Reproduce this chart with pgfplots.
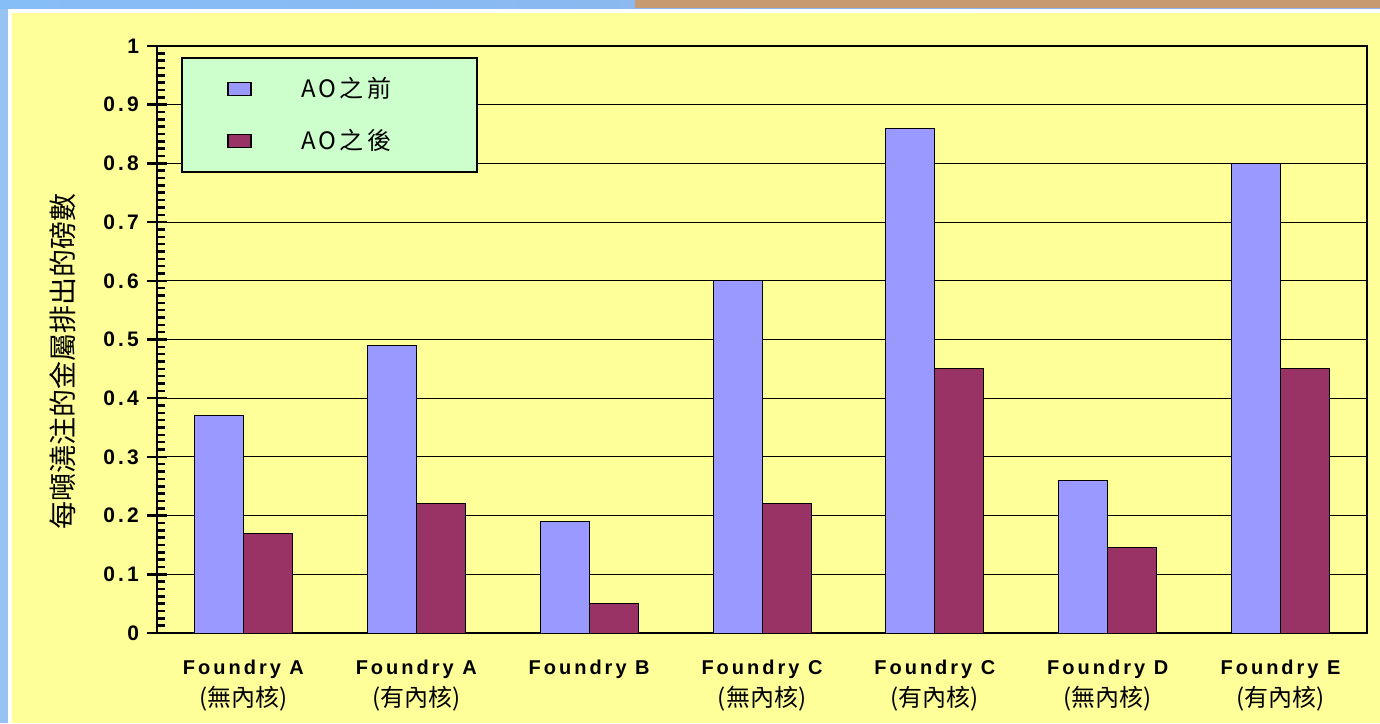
\documentclass[border=0pt]{standalone}
\usepackage{fontspec}
\usepackage{pgfplots}
\pgfplotsset{compat=1.18}
\setmainfont{Liberation Sans}
\newfontfamily\cjk{Noto Sans CJK TC}
\newfontfamily\cjkleg[LetterSpace=14]{Noto Sans CJK TC}
\newfontfamily\lbl[LetterSpace=15,BoldFont={Liberation Sans Bold}]{Liberation Sans}
\definecolor{bgyellow}{HTML}{FFFF99}
\definecolor{barblue}{HTML}{9999FF}
\definecolor{barred}{HTML}{993366}
\definecolor{leggreen}{HTML}{CCFFCC}
\definecolor{edgeblue}{HTML}{96C3F2}
\definecolor{topblueA}{HTML}{86BEF8}
\definecolor{topblueB}{HTML}{90B2E6}
\definecolor{tan}{HTML}{C79A70}
\begin{document}
\begin{tikzpicture}
\useasboundingbox (0pt,0pt) rectangle (690pt,361.5pt);
\fill[bgyellow] (0pt,0pt) rectangle (690pt,361.5pt);
\fill[white] (3.75pt,0pt) rectangle (6pt,361.5pt);
\fill[white] (3.75pt,355pt) rectangle (690pt,357pt);
\fill[edgeblue] (0pt,0pt) rectangle (3.75pt,361.5pt);
\shade[left color=topblueA,right color=topblueB] (0pt,357pt) rectangle (690pt,361.5pt);
\fill[tan] (317.5pt,357.5pt) rectangle (690pt,361.5pt);
\begin{axis}[
  at={(78.5pt,45pt)}, anchor=south west,
  scale only axis, width=605pt, height=293.5pt,
  xmin=-0.5, xmax=6.5, ymin=0, ymax=1,
  ybar=0pt, bar width=24.5pt,
  axis line style={line width=1.25pt},
  tick pos=left,
  xtick={0,...,6},
  xtick style={draw=none},
  xticklabels={
    {{\lbl\bfseries\fontsize{10}{16}\selectfont Foundry A}\\{\cjk (無內核)}},
    {{\lbl\bfseries\fontsize{10}{16}\selectfont Foundry A}\\{\cjk (有內核)}},
    {{\lbl\bfseries\fontsize{10}{16}\selectfont Foundry B}},
    {{\lbl\bfseries\fontsize{10}{16}\selectfont Foundry C}\\{\cjk (無內核)}},
    {{\lbl\bfseries\fontsize{10}{16}\selectfont Foundry C}\\{\cjk (有內核)}},
    {{\lbl\bfseries\fontsize{10}{16}\selectfont Foundry D}\\{\cjk (無內核)}},
    {{\lbl\bfseries\fontsize{10}{16}\selectfont Foundry E}\\{\cjk (有內核)}}},
  xticklabel style={font=\fontsize{12}{16}\selectfont, align=center, anchor=north, yshift=-5pt},
  extra x ticks={0.5,1.5,2.5,3.5,4.5,5.5},
  extra x tick labels={},
  extra x tick style={tick align=outside, major tick length=5pt, grid=none,
     tick style={draw=black, line width=1.25pt}},
  extra y ticks={0.0125,0.025,...,0.9875},
  extra y tick labels={},
  extra y tick style={tick align=inside, major tick length=4pt, grid=none,
     tick style={draw=black, line width=1pt}},
  ytick={0,0.1,...,1},
  yticklabels={0,0.1,0.2,0.3,0.4,0.5,0.6,0.7,0.8,0.9,1},
  yticklabel style={font=\lbl\bfseries\fontsize{10.5}{12}\selectfont, xshift=-0.5pt},
  tick align=center,
  major tick length=10pt,
  ytick style={line width=1.25pt, black},
  ymajorgrids,
  major grid style={black, line width=0.5pt},
  legend image code/.code={
    \path[draw=none,fill=none] (-23pt,-13pt) rectangle (36.5pt,13pt);
    \draw[#1,line width=0.6pt] (0pt,-3.25pt) rectangle (11.5pt,3.25pt);},
  legend cell align=left,
  legend style={at={(0.0198,0.981)}, anchor=north west,
    fill=leggreen, draw=black, line width=1.1pt,
    inner xsep=0pt, inner ysep=2.5pt,
    nodes={inner sep=0pt},
    column sep=0pt, row sep=0pt,
    font=\cjkleg\fontsize{12}{14}\selectfont},
  ylabel={\cjk\fontsize{14}{16}\selectfont 每噸澆注的金屬排出的磅數},
  ylabel style={at={(rel axis cs:-0.078,0.462)}, anchor=center},
]
\addplot[fill=barblue, draw=black, line width=0.5pt] coordinates
  {(0,0.37) (1,0.49) (2,0.19) (3,0.60) (4,0.86) (5,0.26) (6,0.80)};
\addlegendentry{\makebox[88pt][l]{AO之前}}
\addplot[fill=barred, draw=black, line width=0.5pt] coordinates
  {(0,0.17) (1,0.22) (2,0.05) (3,0.22) (4,0.45) (5,0.145) (6,0.45)};
\addlegendentry{\makebox[88pt][l]{AO之後}}
\end{axis}
\end{tikzpicture}
\end{document}
